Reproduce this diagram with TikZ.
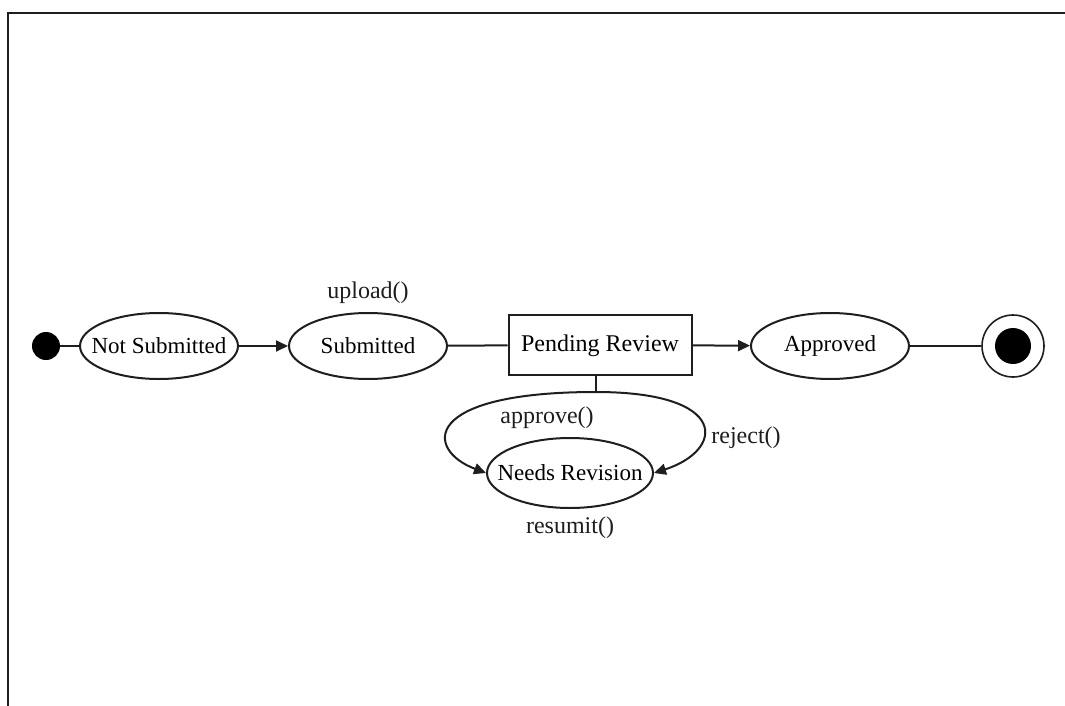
\documentclass[tikz,border=0pt]{standalone}
\usepackage{fontspec}
\setmainfont{Liberation Serif}
\usetikzlibrary{shapes.geometric, arrows.meta, positioning}
\definecolor{inkgray}{RGB}{30, 30, 30}

\begin{document}
\begin{tikzpicture}[x=0.5pt, y=-0.5pt,
    state/.style={draw=inkgray, ellipse, line width=1pt, minimum width=79pt,
                  minimum height=33pt, inner sep=0pt, font=\fontsize{11.5}{14}\selectfont,
                  execute at begin node={\hbox to 0pt\bgroup\hss},
                  execute at end node={\hss\egroup}},
    review/.style={draw=inkgray, rectangle, line width=1pt, minimum width=91.5pt,
                   minimum height=30pt, text height=8pt, text depth=2pt,
                   font=\fontsize{12}{14}\selectfont},
    lbl/.style={font=\fontsize{12}{14}\selectfont, text=inkgray, inner sep=0pt},
    flow/.style={draw=inkgray, line width=1pt},
    tip/.style={flow, -{Triangle[length=6pt, width=5.5pt]}}
]
    \useasboundingbox (0,0) rectangle (1065,706);
    \draw[inkgray, line width=0.8pt] (8,706) -- (8,13) -- (1065,13);

    % states
    \node[circle, fill=black, minimum size=14pt, inner sep=0pt] (init) at (46,346) {};
    \node[state] (notsub) at (159,346) {Not Submitted};
    \node[state] (sub) at (368,346) {Submitted};
    \node[review] (pending) at (600,345) {Pending Review};
    \node[state] (approved) at (830,346) {Approved};
    \node[state, minimum width=83pt, minimum height=35pt] (revision) at (570,473) {Needs Revision};
    \node[circle, draw=inkgray, line width=0.8pt, minimum size=31pt, inner sep=0pt] (final) at (1013,346) {};
    \node[circle, fill=black, minimum size=18pt, inner sep=0pt] at (final) {};

    % labels
    \node[lbl] (uploadlbl) at (368,293) {upload()};
    \node[lbl] (approvelbl) at (547,418) {approve()};
    \node[lbl] (rejectlbl) at (746,438) {reject()};
    \node[lbl] (resumitlbl) at (570,528) {resumit()};

    % transitions
    \draw[flow] (init) -- (notsub);
    \draw[tip] (notsub) -- (sub);
    \draw[flow] (sub) -- (pending);
    \draw[tip] (pending) -- (approved);
    \draw[flow] (approved) -- (final);

    \coordinate (split) at (596,392);
    \draw[flow] (pending.south -| split) -- (split);
    \draw[tip] (split) .. controls (420,392) and (425,450) .. (revision.west);
    \draw[tip] (split) .. controls (730,392) and (725,450) .. (revision.east);
\end{tikzpicture}
\end{document}
